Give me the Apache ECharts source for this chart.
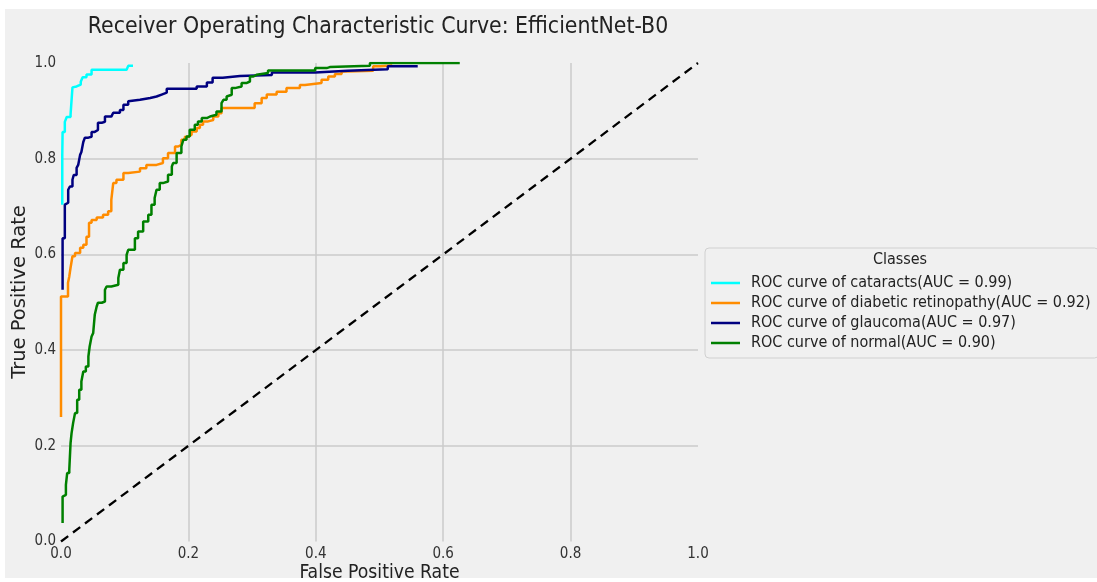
<!DOCTYPE html>
<html>
<head>
<meta charset="utf-8">
<script src="https://cdn.jsdelivr.net/npm/echarts@6/dist/echarts.min.js"></script>
<style>
  html, body { margin: 0; padding: 0; background: #ffffff; }
  #chart { width: 1097px; height: 582px; }
</style>
</head>
<body>
<div id="chart"></div>
<script>
// ROC points [false positive rate, true positive rate] per class
const rocCataracts = [
  [0.002, 0.704], [0.0025, 0.808], [0.006, 0.856], [0.009, 0.877], [0.015, 0.887],
  [0.018, 0.892], [0.019, 0.949], [0.0245, 0.951], [0.031, 0.955], [0.034, 0.961],
  [0.040, 0.970], [0.048, 0.976], [0.058, 0.986], [0.103, 0.986], [0.1055, 0.990],
  [0.113, 0.994]
];
const rocDiabeticRetinopathy = [
  [0, 0.26], [0.011, 0.512], [0.013, 0.541], [0.015, 0.554], [0.018, 0.572],
  [0.022, 0.596], [0.030, 0.603], [0.035, 0.614], [0.040, 0.620], [0.044, 0.637],
  [0.048, 0.666], [0.056, 0.672], [0.066, 0.677], [0.074, 0.683], [0.079, 0.690],
  [0.082, 0.714], [0.087, 0.749], [0.098, 0.756], [0.1055, 0.770], [0.124, 0.773],
  [0.134, 0.780], [0.150, 0.787], [0.160, 0.791], [0.168, 0.801], [0.179, 0.812],
  [0.184, 0.8255], [0.189, 0.829], [0.1945, 0.8395], [0.200, 0.846], [0.205, 0.850],
  [0.213, 0.857], [0.218, 0.864], [0.223, 0.871], [0.231, 0.878], [0.239, 0.881],
  [0.247, 0.888], [0.252, 0.895], [0.257, 0.906], [0.304, 0.906], [0.315, 0.916],
  [0.323, 0.927], [0.3385, 0.934], [0.354, 0.940], [0.375, 0.9475], [0.383, 0.954],
  [0.409, 0.958], [0.4195, 0.965], [0.430, 0.972], [0.4405, 0.977], [0.448, 0.982],
  [0.490, 0.984], [0.501, 0.993], [0.52, 0.995]
];
const rocGlaucoma = [
  [0.0025, 0.526], [0.006, 0.634], [0.0077, 0.704], [0.0113, 0.708], [0.014, 0.735],
  [0.018, 0.742], [0.020, 0.756], [0.0245, 0.766], [0.027, 0.781], [0.030, 0.787],
  [0.032, 0.808], [0.035, 0.814], [0.0375, 0.835], [0.043, 0.844], [0.048, 0.846],
  [0.053, 0.856], [0.058, 0.860], [0.064, 0.875], [0.069, 0.877], [0.079, 0.888],
  [0.082, 0.892], [0.0925, 0.896], [0.098, 0.902], [0.1055, 0.913], [0.108, 0.920],
  [0.124, 0.923], [0.140, 0.927], [0.150, 0.930], [0.158, 0.934], [0.166, 0.938],
  [0.176, 0.946], [0.213, 0.946], [0.229, 0.951], [0.238, 0.959], [0.254, 0.969],
  [0.281, 0.973], [0.331, 0.975], [0.399, 0.980], [0.450, 0.984], [0.513, 0.987],
  [0.560, 0.993]
];
const rocNormal = [
  [0.0025, 0.0385], [0.0035, 0.094], [0.0077, 0.0976], [0.0097, 0.1185], [0.013, 0.143],
  [0.015, 0.150], [0.0166, 0.2056], [0.019, 0.2265], [0.022, 0.2474], [0.0254, 0.2683],
  [0.0286, 0.2961], [0.032, 0.317], [0.035, 0.3344], [0.039, 0.3553], [0.043, 0.3657],
  [0.045, 0.3866], [0.048, 0.4075], [0.0505, 0.4284], [0.053, 0.4355], [0.056, 0.4738],
  [0.058, 0.4911], [0.064, 0.499], [0.069, 0.5016], [0.0716, 0.526], [0.079, 0.533],
  [0.090, 0.5365], [0.0925, 0.5505], [0.098, 0.5678], [0.103, 0.5818], [0.1055, 0.5992],
  [0.116, 0.6096], [0.121, 0.634], [0.129, 0.648], [0.137, 0.669], [0.142, 0.6828],
  [0.147, 0.7037], [0.150, 0.7177], [0.155, 0.735], [0.160, 0.749], [0.168, 0.7524],
  [0.174, 0.7664], [0.176, 0.7837], [0.1815, 0.7908], [0.189, 0.8117], [0.192, 0.8255],
  [0.197, 0.8395], [0.202, 0.8464], [0.210, 0.8604], [0.215, 0.8709], [0.221, 0.8777],
  [0.229, 0.8848], [0.234, 0.8882], [0.244, 0.8918], [0.252, 0.8987], [0.255, 0.9162],
  [0.260, 0.9231], [0.2625, 0.930], [0.268, 0.9336], [0.273, 0.9475], [0.2835, 0.9509],
  [0.291, 0.958], [0.2966, 0.9613], [0.302, 0.9718], [0.307, 0.9753], [0.325, 0.9789],
  [0.362, 0.9843], [0.399, 0.9843], [0.417, 0.9893], [0.422, 0.9914], [0.485, 0.9941],
  [0.501, 1.0], [0.626, 1.0]
];
const chanceLine = [[0, 0], [1, 1]];

const classNames = ['cataracts', 'diabetic retinopathy', 'glaucoma', 'normal'];
const aucScores = [0.99, 0.92, 0.97, 0.90];
const classCurves = [rocCataracts, rocDiabeticRetinopathy, rocGlaucoma, rocNormal];
const axisTicks = [0, 0.2, 0.4, 0.6, 0.8, 1.0];

const lineColors = ['#00ffff', '#ff8c00', '#000080', '#008000'];
const FONT = "'DejaVu Sans Condensed', 'DejaVu Sans', sans-serif";

const legendNames = classNames.map((c, i) => `ROC curve of ${c}(AUC = ${aucScores[i].toFixed(2)})`);

const curveSeries = classCurves.map((pts, i) => ({
  name: legendNames[i],
  type: 'line',
  data: pts,
  step: 'start',
  showSymbol: false,
  symbol: 'none',
  clip: true,
  color: lineColors[i],
  itemStyle: { color: lineColors[i] },
  lineStyle: { color: lineColors[i], width: 2.5 },
  emphasis: { disabled: true },
  z: 3 + i
}));

const chart = echarts.init(document.getElementById('chart'), null, { renderer: 'canvas' });

chart.setOption({
  animation: false,
  backgroundColor: '#ffffff',
  textStyle: { fontFamily: FONT },
  title: {
    text: 'Receiver Operating Characteristic Curve: EfficientNet-B0',
    left: 378,
    top: 16,
    textAlign: 'center',
    padding: 0,
    textStyle: { fontFamily: FONT, fontSize: 22.8, fontWeight: 'normal', color: '#222222' }
  },
  graphic: [
    {
      type: 'rect',
      z: -100,
      silent: true,
      shape: { x: 5, y: 9, width: 1092, height: 569 },
      style: { fill: '#f0f0f0' }
    },
    {
      // vertical axis title
      type: 'text',
      z: 100,
      silent: true,
      x: 20,
      y: 292,
      rotation: Math.PI / 2,
      style: {
        text: 'True Positive Rate',
        fontFamily: "'DejaVu Sans', sans-serif",
        fontSize: 19.5,
        fill: '#222222',
        align: 'center',
        verticalAlign: 'middle'
      }
    },
    {
      // legend heading
      type: 'text',
      z: 100,
      silent: true,
      x: 900,
      y: 260,
      style: {
        text: 'Classes',
        fontFamily: FONT,
        fontSize: 16,
        fill: '#222222',
        align: 'center',
        verticalAlign: 'middle'
      }
    }
  ],
  legend: {
    data: legendNames,
    orient: 'vertical',
    left: 705,
    top: 248,
    icon: 'rect',
    itemWidth: 29,
    itemHeight: 2.5,
    itemGap: 0,
    padding: [25, 8, 5, 6],
    backgroundColor: '#f0f0f0',
    borderColor: '#d0d0d0',
    borderWidth: 1,
    borderRadius: 4,
    selectedMode: false,
    textStyle: {
      fontFamily: FONT,
      fontSize: 16,
      color: '#222222',
      lineHeight: 20,
      padding: [0, 0, 0, 6]
    }
  },
  grid: {
    left: 61, top: 63, width: 637, height: 478.5,
    containLabel: false,
    outerBoundsMode: 'none'
  },
  xAxis: {
    type: 'value',
    min: axisTicks[0],
    max: axisTicks[axisTicks.length - 1],
    interval: 0.2,
    axisLine: { show: false },
    axisTick: { show: false },
    axisLabel: {
      fontFamily: FONT, fontSize: 15, color: '#333333', margin: 5,
      alignMinLabel: 'center', alignMaxLabel: 'center',
      formatter: v => v.toFixed(1)
    },
    splitLine: {
      show: true, showMinLine: false, showMaxLine: false,
      lineStyle: { color: '#cbcbcb', width: 1.5 }
    },
    name: 'False Positive Rate',
    nameLocation: 'middle',
    nameGap: 22,
    nameMoveOverlap: false,
    nameTextStyle: { fontFamily: FONT, fontSize: 19.2, color: '#222222' }
  },
  yAxis: {
    type: 'value',
    min: axisTicks[0],
    max: axisTicks[axisTicks.length - 1],
    interval: 0.2,
    axisLine: { show: false },
    axisTick: { show: false },
    axisLabel: {
      fontFamily: FONT, fontSize: 15, color: '#333333', margin: 5,
      verticalAlignMinLabel: 'middle', verticalAlignMaxLabel: 'middle',
      formatter: v => v.toFixed(1)
    },
    splitLine: {
      show: true, showMinLine: false, showMaxLine: false,
      lineStyle: { color: '#cbcbcb', width: 1.5 }
    }
  },
  series: curveSeries.concat([{
    name: 'chance',
    type: 'line',
    data: chanceLine,
    showSymbol: false,
    symbol: 'none',
    color: '#000000',
    lineStyle: { color: '#000000', width: 2.3, type: [9, 6] },
    emphasis: { disabled: true },
    z: 8
  }])
});
</script>
</body>
</html>
